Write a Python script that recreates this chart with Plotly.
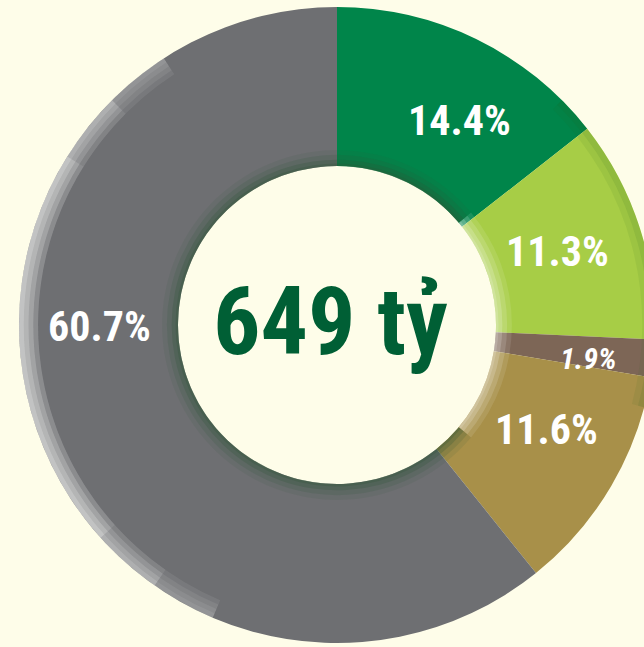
import plotly.graph_objects as go

# Data
categories = ["A", "B", "C", "D", "E"]
shares = [14.4, 11.3, 1.9, 11.6, 60.7]
labels_text = ["14.4%", "11.3%", "1.9%", "11.6%", "60.7%"]
total_text = "649 tỷ"

colors = ["#00854A", "#A7CD46", "#7D6656", "#A89049", "#6E6F72"]
BG = "#FEFDE9"
HOLE = 0.50

fig = go.Figure()

# main donut
fig.add_trace(go.Pie(
    labels=categories,
    values=shares,
    marker=dict(colors=colors, line=dict(width=0)),
    hole=HOLE, sort=False, direction="clockwise", rotation=0,
    textinfo="none", hoverinfo="skip", showlegend=False,
))

def ring(outer, inner, cols, vals, rot=0):
    half = outer / 2
    fig.add_trace(go.Pie(
        values=vals,
        marker=dict(colors=cols, line=dict(width=0)),
        hole=inner / outer, sort=False, direction="clockwise", rotation=rot,
        textinfo="none", hoverinfo="skip", showlegend=False,
        domain=dict(x=[0.5 - half, 0.5 + half], y=[0.5 - half, 0.5 + half]),
    ))

T = "rgba(0,0,0,0)"

# inner shading near the hole edge (dark most of the way round, light on the right)
for outer, a_d, a_l in [(0.55, 0.10, 0.10), (0.535, 0.16, 0.14), (0.52, 0.24, 0.18), (0.508, 0.26, 0.16)]:
    ring(outer, HOLE, [f"rgba(255,255,255,{a_l})", f"rgba(45,85,55,{a_d})"], [80, 280], 50)

# soft outer light rim on the left
for inner in [0.94, 0.955, 0.97, 0.985]:
    for start, span in [(203, 124), (215, 100), (228, 74)]:
        ring(1.0, inner, [T, "rgba(255,255,255,0.075)", T], [start, span, 360 - start - span])

# subtle darker edge on the right
for inner, a in [(0.96, 0.08), (0.98, 0.10)]:
    ring(1.0, inner, [T, f"rgba(40,100,30,{a})", T], [45, 60, 255])

font_fam = "Liberation Sans Narrow, Roboto Condensed, DejaVu Sans Condensed, Arial Narrow, sans-serif"

label_pos = [(0.693, 0.822), (0.847, 0.616), (0.896, 0.448), (0.829, 0.336), (0.127, 0.498)]
for (x, y), t in zip(label_pos, labels_text):
    small = t == "1.9%"
    fig.add_annotation(
        x=x, y=y, xref="paper", yref="paper", showarrow=False,
        xanchor="center", yanchor="middle",
        text=f"<i><b>{t}</b></i>" if small else f"<b>{t}</b>",
        font=dict(family=font_fam, size=30 if small else 42, color="white"),
    )

fig.add_annotation(
    x=0.489, y=0.505, xref="paper", yref="paper", showarrow=False,
    xanchor="center", yanchor="middle",
    text=f"<b>{total_text}</b>",
    font=dict(family=font_fam, size=94, color="#005F35"),
)

fig.update_layout(
    width=664, height=647,
    margin=dict(l=19, r=9, t=7, b=4),
    paper_bgcolor=BG, plot_bgcolor=BG,
)

fig.write_html(
    "out.html",
    config={"displayModeBar": False},
    post_script="document.body.style.margin='0';document.body.style.overflow='hidden';",
)
